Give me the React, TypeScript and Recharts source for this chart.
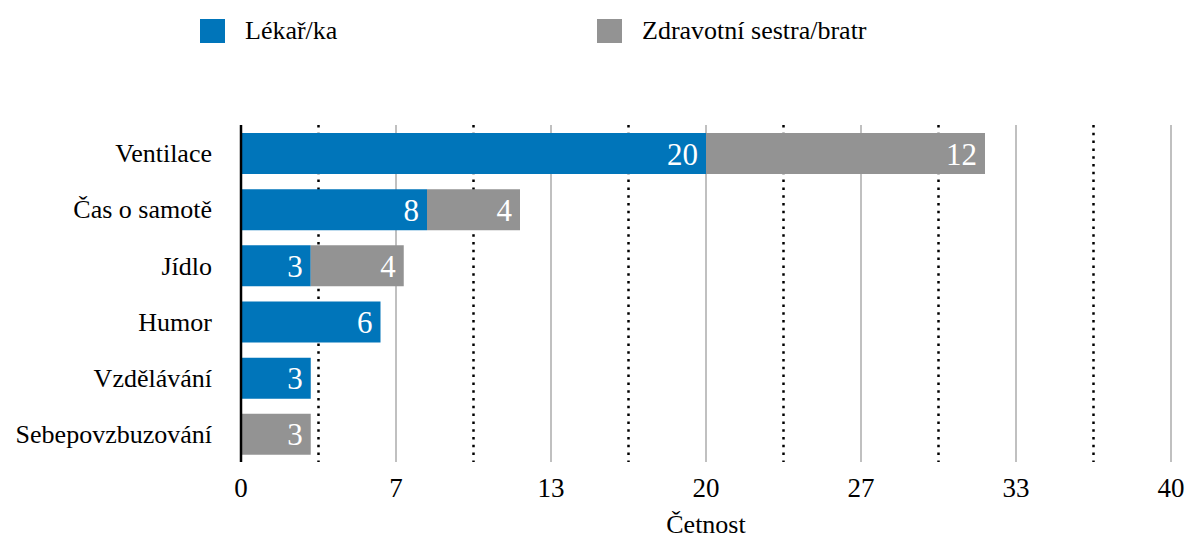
import React from 'react';
import { BarChart, Bar, XAxis, YAxis, CartesianGrid, LabelList, Label } from 'recharts';

// hodnoty
const categories = ['Ventilace', 'Čas o samotě', 'Jídlo', 'Humor', 'Vzdělávání', 'Sebepovzbuzování'];
const lekarValues = [20, 8, 3, 6, 3, 0];
const sestraValues = [12, 4, 4, 0, 0, 3];
const xTickLabels = ['0', '7', '13', '20', '27', '33', '40'];
const xMax = 40;

const seriesNames = ['Lékař/ka', 'Zdravotní sestra/bratr'];
const BLUE = '#0075BA';
const GRAY = '#939393';
const FONT = "'Liberation Serif', Tinos, 'Times New Roman', Times, 'Noto Serif', 'DejaVu Serif', serif";

const data = categories.map((name, i) => ({
  name,
  lekar: lekarValues[i],
  sestra: sestraValues[i],
}));

const step = xMax / (xTickLabels.length - 1);
const xTicks = xTickLabels.map((_, i) => i * step);
const solidLines = xTicks.slice(1);
const dottedLines = xTicks.slice(0, -1).map((v) => v + step / 2);

// mřížka podle hodnot osy x (přepočet přes plochu grafu)
const gridGen = (values: number[]) => (props: any) => {
  const scale = props?.xAxis?.scale;
  if (typeof scale === 'function') return values.map((v) => scale(v));
  const { offset } = props;
  return values.map((v) => offset.left + (v / xMax) * offset.width);
};

const hideZero = (v: any) => (v ? v : '');

function Legenda() {
  const items = [
    { name: seriesNames[0], color: BLUE, left: 200 },
    { name: seriesNames[1], color: GRAY, left: 597 },
  ];
  return (
    <>
      {items.map((it) => (
        <div
          key={it.name}
          style={{ position: 'absolute', left: it.left, top: 16, display: 'flex', alignItems: 'center', fontFamily: FONT, fontSize: 26, color: '#000' }}
        >
          <span style={{ width: 25, height: 24, background: it.color, display: 'inline-block', marginRight: 20 }} />
          <span>{it.name}</span>
        </div>
      ))}
    </>
  );
}

export default function App() {
  return (
    <div style={{ position: 'absolute', left: 0, top: 0, width: 1185, height: 539, fontFamily: FONT }}>
      <Legenda />
      <BarChart
        width={1185}
        height={539}
        data={data}
        layout="vertical"
        margin={{ top: 125, right: 14, bottom: 0, left: 0 }}
        style={{ fontFamily: FONT }}
      >
        <CartesianGrid horizontal={false} stroke="#C0C0C0" strokeWidth={2} verticalCoordinatesGenerator={gridGen(solidLines)} />
        <CartesianGrid horizontal={false} stroke="#000" strokeWidth={2.5} strokeDasharray="2.5 5.3" verticalCoordinatesGenerator={gridGen(dottedLines)} />
        <XAxis
          type="number"
          domain={[0, xMax]}
          ticks={xTicks}
          tickFormatter={(_v: number, i: number) => xTickLabels[i]}
          axisLine={false}
          tickLine={false}
          tickSize={0}
          tickMargin={16}
          height={77}
          tick={{ fill: '#000', fontSize: 27, fontFamily: FONT }}
        >
          <Label value="Četnost" position="insideBottom" offset={6} style={{ fill: '#000', fontSize: 26, fontFamily: FONT }} />
        </XAxis>
        <YAxis
          type="category"
          dataKey="name"
          width={241}
          axisLine={{ stroke: '#000', strokeWidth: 2.5 }}
          tickLine={false}
          tickSize={0}
          tickMargin={29}
          tick={{ fill: '#000', fontSize: 26, fontFamily: FONT }}
        />
        <Bar dataKey="lekar" name={seriesNames[0]} stackId="a" fill={BLUE} barSize={41} isAnimationActive={false}>
          <LabelList dataKey="lekar" position="insideRight" offset={8} formatter={hideZero} style={{ fill: '#fff', fontSize: 31, fontFamily: FONT }} />
        </Bar>
        <Bar dataKey="sestra" name={seriesNames[1]} stackId="a" fill={GRAY} barSize={41} isAnimationActive={false}>
          <LabelList dataKey="sestra" position="insideRight" offset={8} formatter={hideZero} style={{ fill: '#fff', fontSize: 31, fontFamily: FONT }} />
        </Bar>
      </BarChart>
    </div>
  );
}
